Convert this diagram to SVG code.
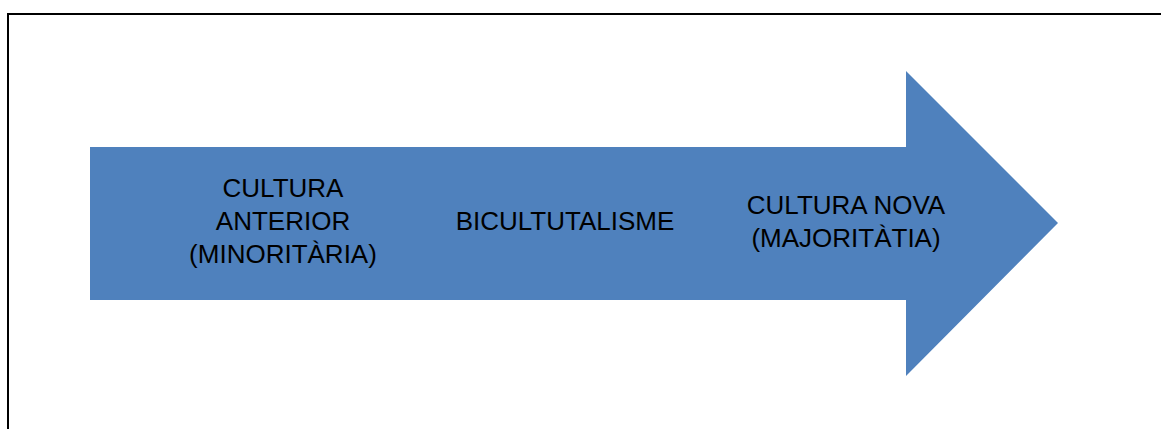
<svg xmlns="http://www.w3.org/2000/svg" width="1161" height="429" viewBox="0 0 1161 429">
<style>
.lbl{font-family:"Liberation Sans",Arial,sans-serif;font-size:26px;fill:#000;text-anchor:middle}
</style>
<rect width="1161" height="429" fill="#fff"/>
<rect x="8" y="14" width="1170" height="430" fill="none" stroke="#000" stroke-width="2"/>
<g id="arrow">
<polygon points="90,147 906,147 906,71 1058,223 906,376 906,300 90,300" fill="#4F81BD"/>
</g>
<g id="node-anterior">
<text class="lbl" x="283" y="197">CULTURA</text>
<text class="lbl" x="283" y="230">ANTERIOR</text>
<text class="lbl" x="283" y="263">(MINORITÀRIA)</text>
</g>
<g id="node-bicultural">
<text class="lbl" x="565" y="230">BICULTUTALISME</text>
</g>
<g id="node-nova">
<text class="lbl" x="846" y="214">CULTURA NOVA</text>
<text class="lbl" x="846" y="247">(MAJORITÀTIA)</text>
</g>
<g id="connectors"/>
</svg>
